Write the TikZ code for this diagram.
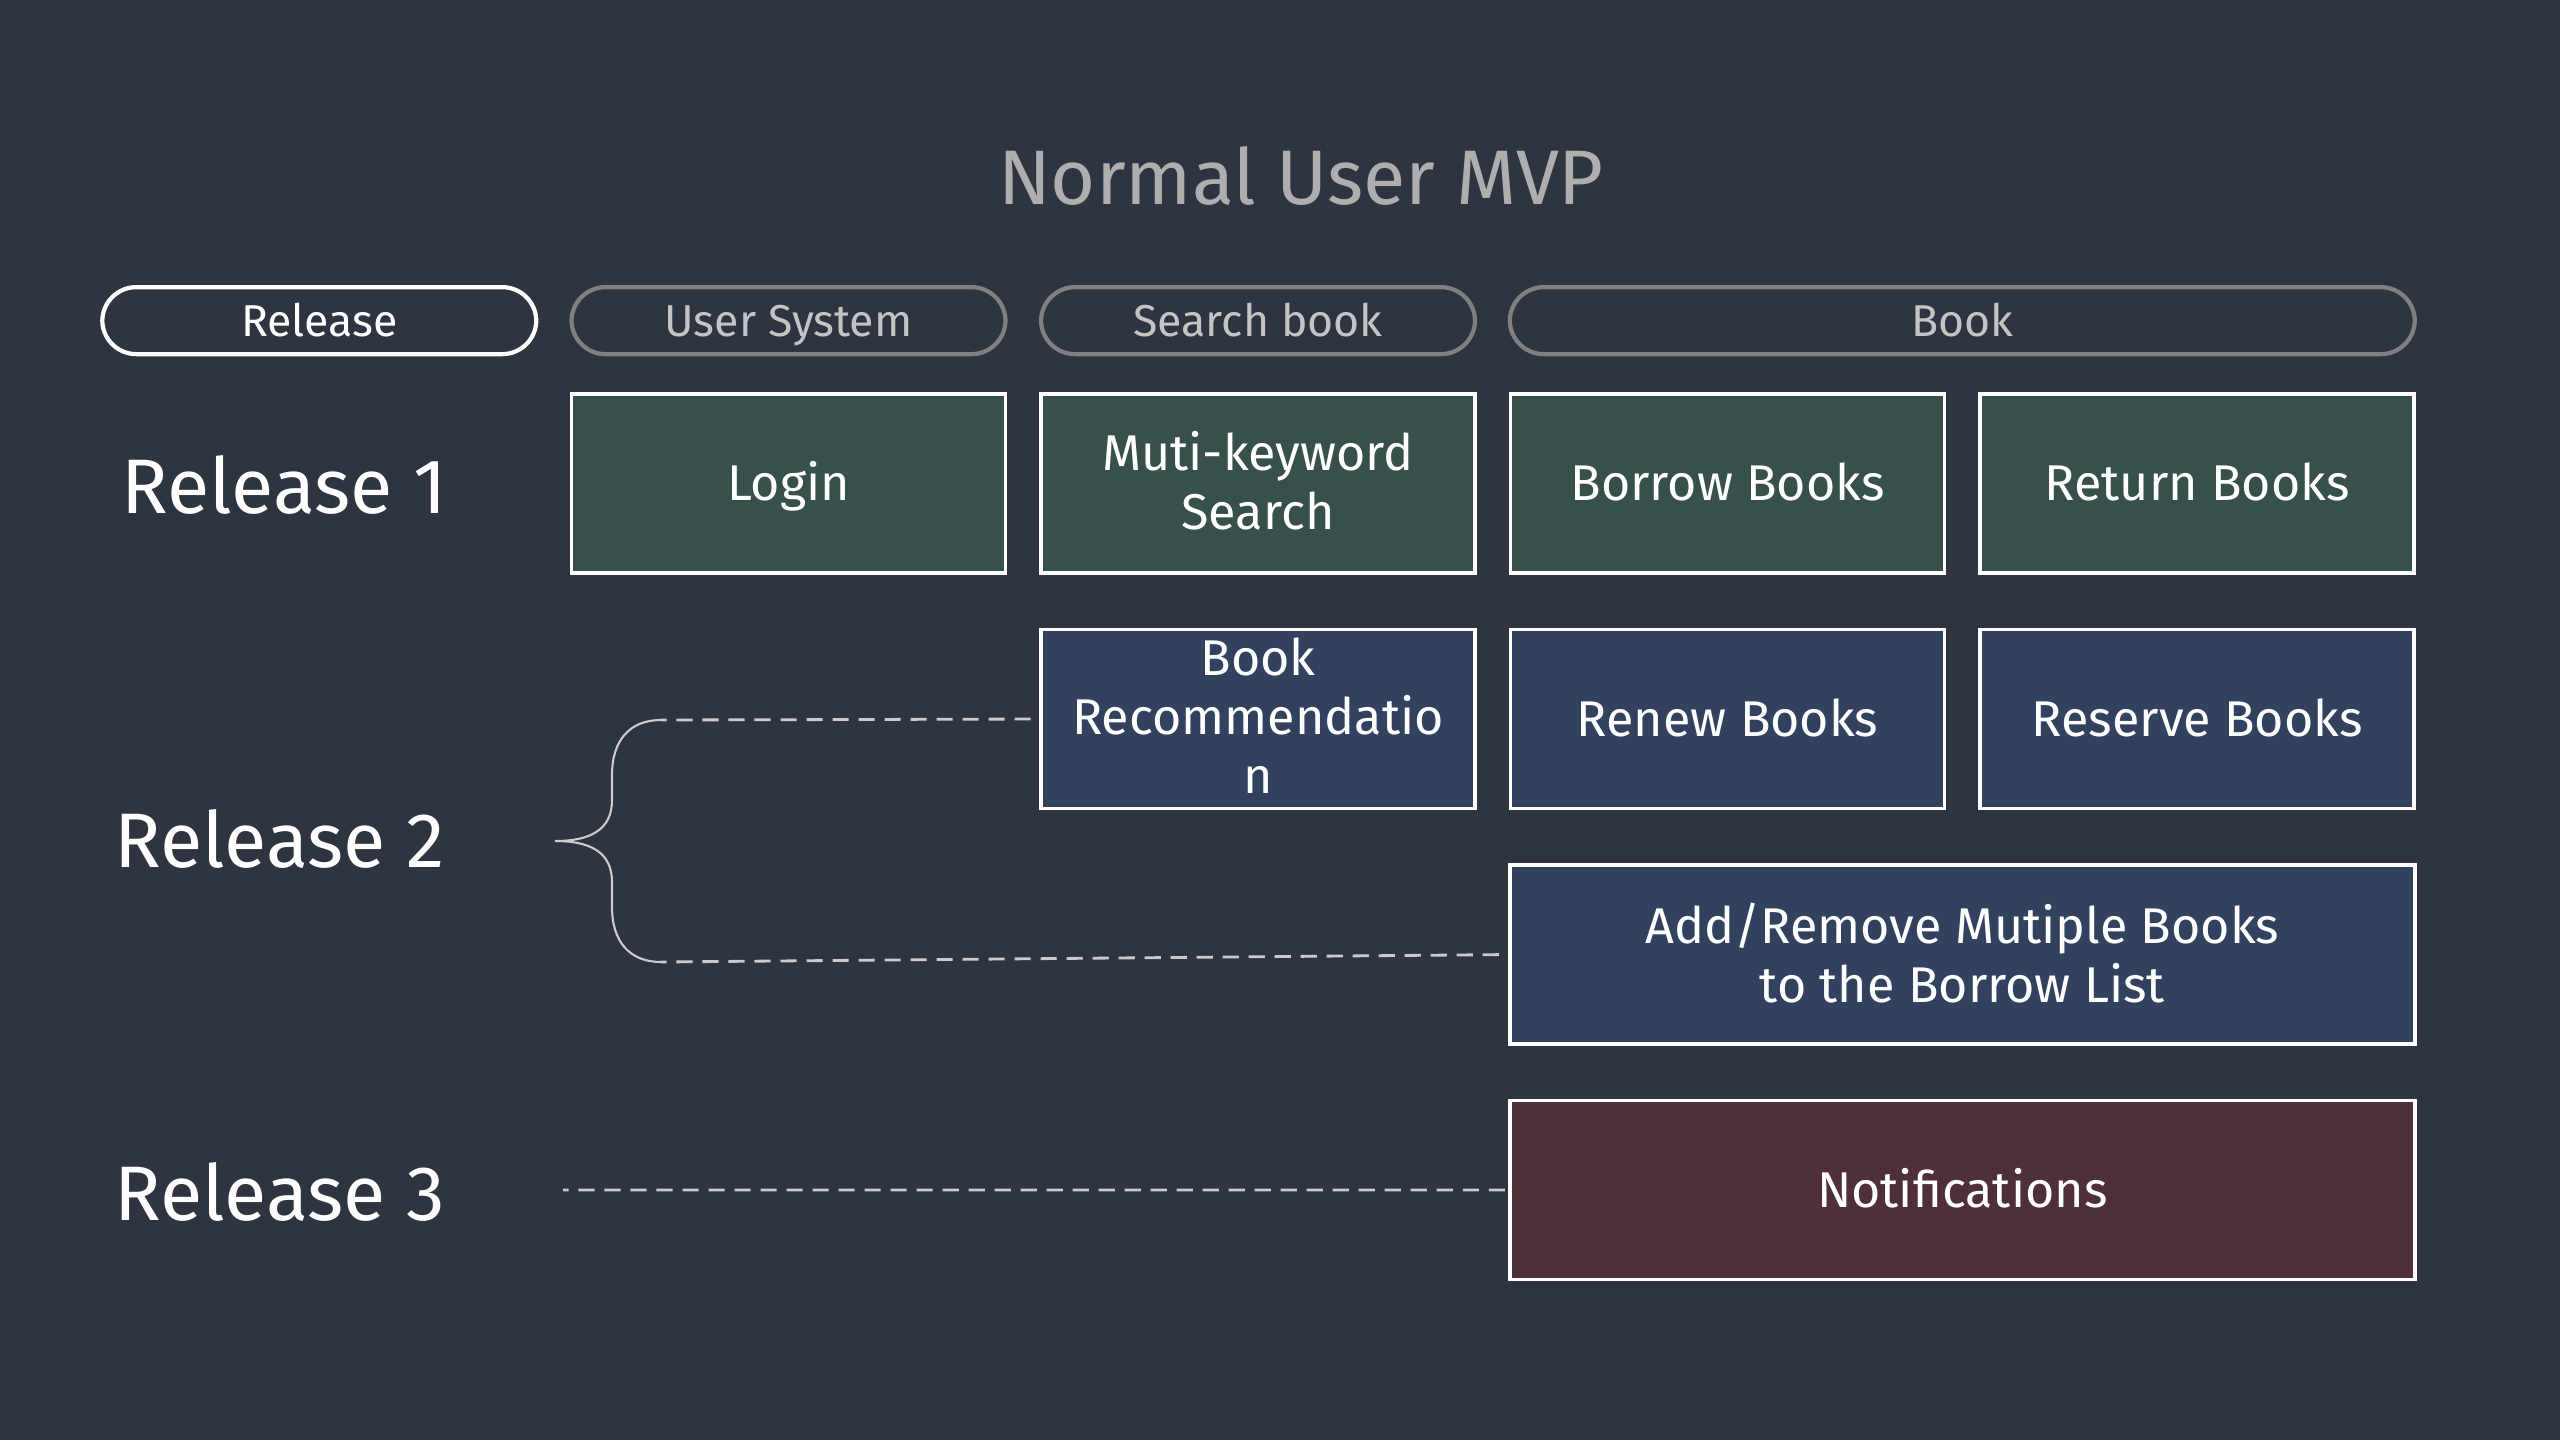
\documentclass[tikz,border=0pt]{standalone}
\usepackage{fontspec}
\setmainfont{Fira Sans}
\usetikzlibrary{positioning,calc}
\definecolor{bgcol}{HTML}{2E3440}
\definecolor{r1col}{HTML}{37504B}
\definecolor{r2col}{HTML}{32425E}
\definecolor{r3col}{HTML}{502F3D}
\definecolor{pillgray}{HTML}{808080}
\definecolor{pilltext}{HTML}{C4C4C4}
\definecolor{titlegray}{HTML}{AEAEAE}
\definecolor{linkgray}{HTML}{CBCBCB}

\begin{document}
\begin{tikzpicture}[node distance=5.3mm and 3.2mm,
    card/.style={draw=white,line width=1pt,minimum width=4.34cm,minimum height=1.79cm,
      inner sep=0pt,align=center,text=white,font=\fontsize{14.3}{16.8}\selectfont},
    oneline/.style={text height=9.9pt,text depth=0pt},
    wide/.style={card,minimum width=9.05cm},
    pill/.style={draw=pillgray,line width=1.2pt,rounded corners=3.4mm,minimum width=4.34cm,
      minimum height=0.67cm,inner sep=0pt,text height=8.8pt,text depth=0pt,
      text=pilltext,font=\fontsize{12.7}{15}\selectfont},
    relname/.style={anchor=west,text=white,inner sep=0pt,font=\fontsize{22}{26}\selectfont},
    link/.style={draw=linkgray,line width=0.8pt,dash pattern=on 4.6pt off 2.8pt,dash phase=3pt},
    brace/.style={draw=linkgray,line width=0.6pt}]

    \fill[bgcol] (0,0) rectangle (25.6,-14.4);

    \node[text=titlegray,font=\fontsize{22}{26}\selectfont] (title) at (13.01,-1.76) {Normal User MVP};

    \node[card,oneline,fill=r1col] (login) at (7.885,-4.835) {Login};
    \node[card,fill=r1col] (muti) [right=of login] {Muti-keyword\\Search\rule[-2pt]{0pt}{0pt}};
    \node[card,oneline,fill=r1col] (borrow) [right=of muti] {Borrow Books};
    \node[card,oneline,fill=r1col] (return) [right=of borrow] {Return Books};

    \node[card,fill=r2col] (bookrec) [below=of muti] {Book\\Recommendatio\\n\rule[-2pt]{0pt}{0pt}};
    \node[card,oneline,fill=r2col] (renew) [below=of borrow] {Renew Books};
    \node[card,oneline,fill=r2col] (reserve) [below=of return] {Reserve Books};
    \coordinate (mid2) at ($(renew.south)!.5!(reserve.south)$);
    \node[wide,fill=r2col] (add) [below=of mid2] {Add/Remove Mutiple Books\\to the Borrow List\rule[-1pt]{0pt}{0pt}};

    \node[wide,oneline,fill=r3col] (notif) [below=of add] {Notifications};

    \node[pill] (usersys) [above=3.6mm of login] {User System};
    \node[pill,draw=white,text=white] (release) [left=3.1mm of usersys] {Release};
    \node[pill] (search) [above=3.6mm of muti] {Search book};
    \coordinate (mid1) at ($(borrow.north)!.5!(return.north)$);
    \node[pill,minimum width=9.05cm] (book) [above=3.6mm of mid1] {Book};

    \node[relname] (rel1) at (1.21,-4.85) {Release 1};
    \node[relname] (rel2) at (1.14,-8.39) {Release 2};
    \node[relname] (rel3) at (1.14,-11.92) {Release 3};

    \coordinate (bt) at (6.61,-7.20);
    \coordinate (bb) at (6.61,-9.62);
    \coordinate (tip) at (5.55,-8.41);
    \coordinate (r3end) at (5.63,-11.90);

    \draw[brace] (bt) .. controls (6.30,-7.20) and (6.12,-7.40) .. (6.12,-7.75)
      -- (6.12,-8.00) .. controls (6.12,-8.30) and (5.90,-8.41) .. (tip)
      .. controls (5.90,-8.41) and (6.12,-8.52) .. (6.12,-8.82)
      -- (6.12,-9.07) .. controls (6.12,-9.42) and (6.30,-9.62) .. (bb);

    \draw[link] (bt) -- (bookrec.west);
    \draw[link] (bb) -- (add.west);
    \draw[link] (r3end) -- (notif.west);

\end{tikzpicture}
\end{document}
